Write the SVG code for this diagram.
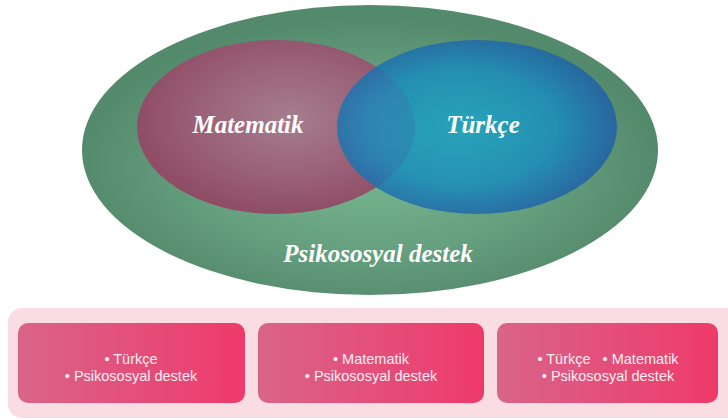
<svg xmlns="http://www.w3.org/2000/svg" width="728" height="420" viewBox="0 0 728 420">
<defs>
<radialGradient id="gGreen" cx="0.5" cy="0.55" r="0.5">
<stop offset="0" stop-color="#78b891"/>
<stop offset="0.6" stop-color="#66a07f"/>
<stop offset="1" stop-color="#538a6c"/>
</radialGradient>
<radialGradient id="gMag" cx="0.55" cy="0.45" r="0.55">
<stop offset="0" stop-color="#a67d8e"/>
<stop offset="0.6" stop-color="#9a6178"/>
<stop offset="1" stop-color="#8f4d66"/>
</radialGradient>
<radialGradient id="gBlue" cx="0.45" cy="0.5" r="0.55">
<stop offset="0" stop-color="#1aa3c2"/>
<stop offset="0.6" stop-color="#1a8cbb"/>
<stop offset="1" stop-color="#1f5fa6"/>
</radialGradient>
<linearGradient id="gBox" x1="0" y1="0" x2="1" y2="0">
<stop offset="0" stop-color="#d9648a"/>
<stop offset="1" stop-color="#ee3a6b"/>
</linearGradient>
<style>
.script{font-family:"Liberation Serif","DejaVu Serif",serif;font-style:italic;font-weight:bold;fill:#ffffff;text-anchor:middle}
.box{fill:url(#gBox)}
.bt{font-family:"Liberation Sans","DejaVu Sans",sans-serif;font-size:14.5px;fill:#fdeef2;text-anchor:middle}
</style>
</defs>
<rect width="728" height="420" fill="#ffffff"/>
<g id="psikososyal">
<ellipse cx="370" cy="150" rx="288" ry="145" fill="url(#gGreen)"/>
<text class="script" x="378" y="262" font-size="25">Psikososyal destek</text>
</g>
<g id="matematik">
<ellipse cx="276" cy="127" rx="139" ry="87" fill="url(#gMag)"/>
</g>
<g id="turkce">
<ellipse cx="477" cy="127" rx="140" ry="87" fill="url(#gBlue)" fill-opacity="0.85"/>
</g>
<g id="labels">
<text class="script" x="248" y="133" font-size="25">Matematik</text>
<text class="script" x="483" y="133" font-size="25">Türkçe</text>
</g>
<g id="panel">
<rect x="8" y="308" width="740" height="110" rx="14" fill="#fadce3"/>
</g>
<g id="box1">
<rect class="box" x="18" y="323" width="227" height="80" rx="10"/>
<text class="bt" x="131" y="364">• Türkçe</text>
<text class="bt" x="131" y="381">• Psikososyal destek</text>
</g>
<g id="box2">
<rect class="box" x="258" y="323" width="226" height="80" rx="10"/>
<text class="bt" x="371" y="364">• Matematik</text>
<text class="bt" x="371" y="381">• Psikososyal destek</text>
</g>
<g id="box3">
<rect class="box" x="497" y="323" width="221" height="80" rx="10"/>
<text class="bt" x="608" y="364" xml:space="preserve">• Türkçe   • Matematik</text>
<text class="bt" x="608" y="381">• Psikososyal destek</text>
</g>
<g id="connectors"/>
</svg>
